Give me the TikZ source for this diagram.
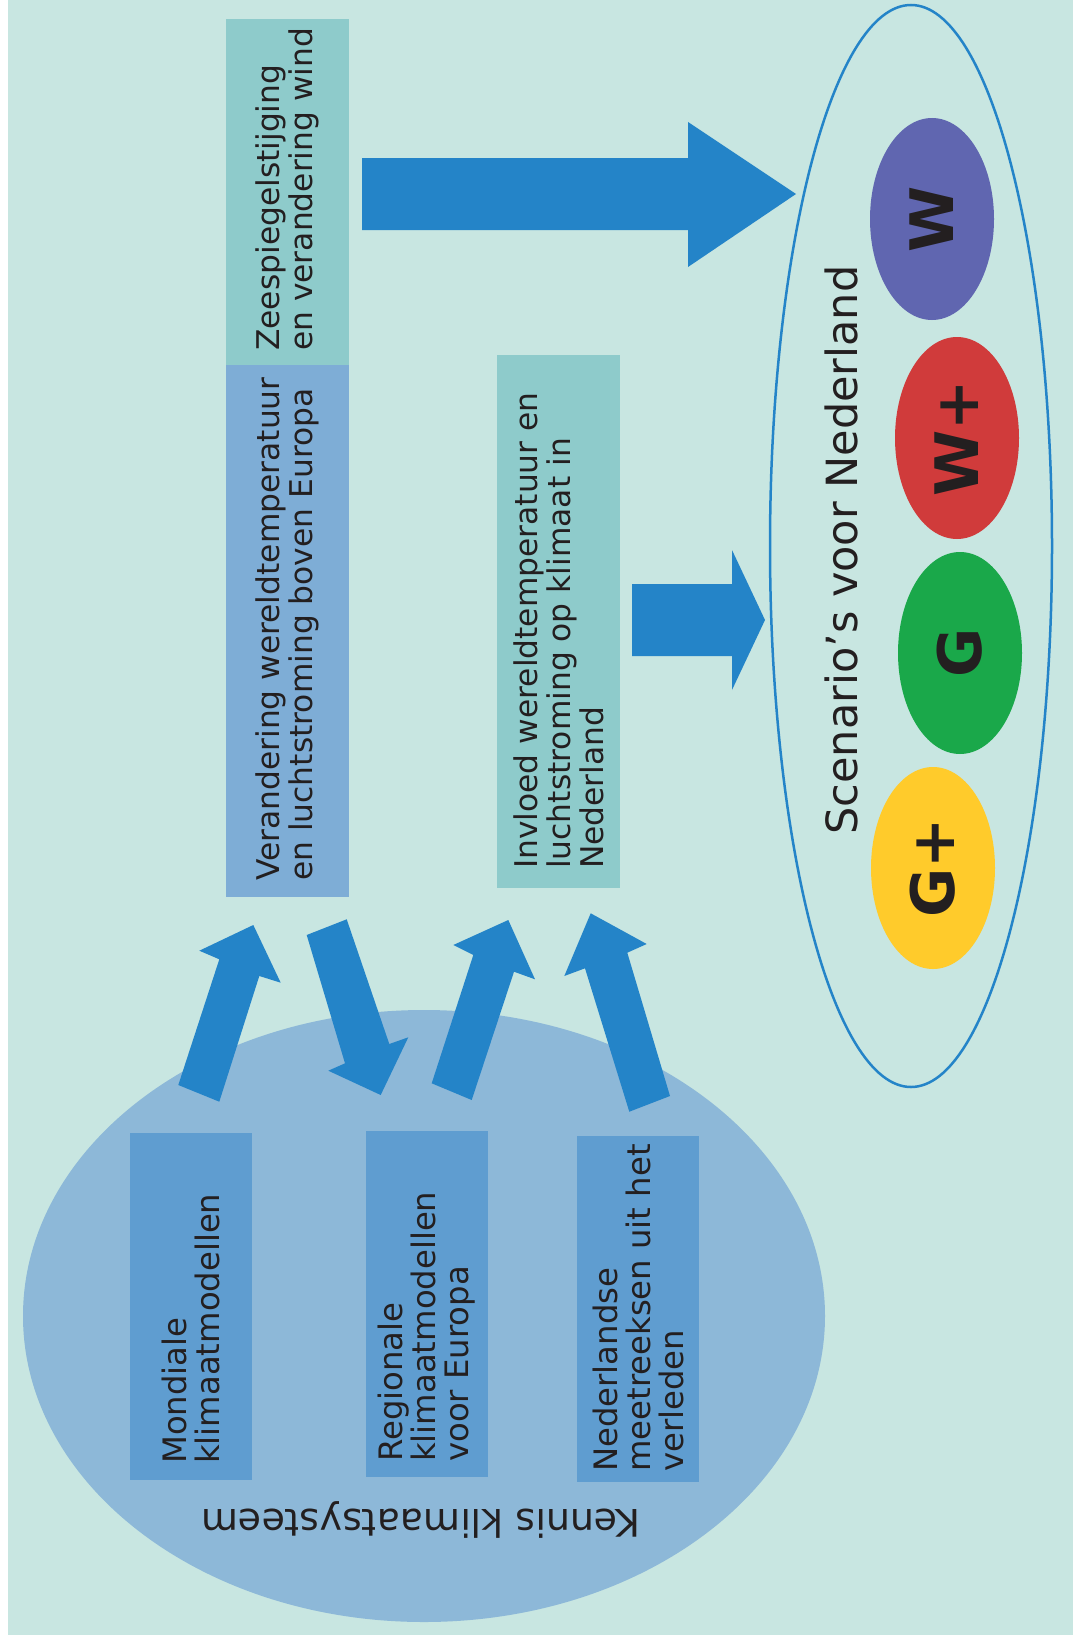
\documentclass[tikz,border=0pt]{standalone}
\usepackage{fontspec}
\setmainfont{DejaVu Sans}
\usetikzlibrary{shapes.geometric}
\definecolor{bg}{RGB}{200,230,225}
\definecolor{tealbox}{RGB}{142,203,203}
\definecolor{bluebox}{RGB}{126,173,214}
\definecolor{cloud}{RGB}{141,184,216}
\definecolor{inbox}{RGB}{95,157,208}
\definecolor{arrowblue}{RGB}{36,132,200}
\definecolor{ink}{RGB}{35,31,32}
\definecolor{wpurple}{RGB}{96,102,176}
\definecolor{wred}{RGB}{208,59,59}
\definecolor{ggreen}{RGB}{26,168,74}
\definecolor{gyellow}{RGB}{255,203,43}
\begin{document}
\begin{tikzpicture}[x=1pt,y=-1pt,
  panel/.style={inner sep=0pt, outer sep=0pt, draw=none},
  lbl/.style={rotate=90, anchor=west, align=left, inner sep=0pt, text=ink,
    font=\fontsize{31.3}{33}\selectfont},
  lbllow/.style={lbl, font=\fontsize{32.3}{33}\selectfont},
  blockarrow/.style={fill=arrowblue, draw=none},
  scenario/.style={ellipse, inner sep=0pt, draw=none, minimum width=124pt, minimum height=202pt},
  letter/.style={rotate=90, inner sep=0pt, text=ink, font=\fontsize{60}{60}\selectfont\bfseries}]
\fill[bg] (0,0) rectangle (1073,1635);
\fill[white] (0,0) rectangle (8,1635);
\useasboundingbox (0,0) rectangle (1073,1635);

% knowledge cloud
\node[ellipse, panel, fill=cloud, minimum width=802pt, minimum height=612pt] (kennis) at (424,1316) {};
\node[panel, fill=inbox, minimum width=122pt, minimum height=347pt] (mon) at (191,1306.5) {};
\node[panel, fill=inbox, minimum width=122pt, minimum height=346pt] (reg) at (427,1304) {};
\node[panel, fill=inbox, minimum width=122pt, minimum height=346pt] (ned) at (638,1309) {};
\node[lbllow] (mont) at ([yshift=16pt]mon.south) {Mondiale\\klimaatmodellen};
\node[lbllow] (regt) at ([yshift=15pt]reg.south) {Regionale\\klimaatmodellen\\voor Europa};
\node[lbllow] (nedt) at ([yshift=10pt]ned.south) {Nederlandse\\meetreeksen uit het\\verleden};
\node[rotate=180, inner sep=0pt, text=ink, font=\fontsize{38}{40}\selectfont] (kt) at (421,1520) {Kennis klimaatsysteem};

% upper boxes
\node[panel, fill=tealbox, minimum width=123pt, minimum height=346pt] (zee) at (287.5,192) {};
\node[panel, fill=bluebox, minimum width=123pt, minimum height=532pt] (ver) at (287.5,631) {};
\node[panel, fill=tealbox, minimum width=123pt, minimum height=533pt] (inv) at (558.5,621.5) {};
\node[lbl] (zeet) at ([yshift=14pt]zee.south) {Zeespiegelstijging\\en verandering wind};
\node[lbl] (vert) at ([yshift=16pt]ver.south) {Verandering wereldtemperatuur\\en luchtstroming boven Europa};
\node[lbl] (invt) at ([yshift=19pt]inv.south) {Invloed wereldtemperatuur en\\luchtstroming op klimaat in\\Nederland};

% scenario ellipse
\node[ellipse, draw=arrowblue, line width=2.5pt, inner sep=0pt, minimum width=282pt, minimum height=1082pt] (scen) at (911,546) {};
\node[rotate=90, anchor=base, inner sep=0pt, text=ink, font=\fontsize{43}{46}\selectfont] (st) at (857,550) {Scenario’s voor Nederland};
\node[scenario, fill=wpurple] (w) at (932,219) {};
\node[scenario, fill=wred] (wp) at (957,438) {};
\node[scenario, fill=ggreen] (g) at (960,653) {};
\node[scenario, fill=gyellow] (gp) at (933,868) {};
\node[letter] (wt) at (w) {W};
\node[letter] (wpt) at (wp) {W+};
\node[letter] (gt) at (g) {G};
\node[letter] (gpt) at (gp) {G+};

% block arrows
\fill[blockarrow] (362,158) -- (688,158) -- (688,122) -- (796,194) -- (688,267) -- (688,230) -- (362,230) -- cycle;
\fill[blockarrow] (632,584) -- (732,584) -- (732,550) -- (765,620) -- (732,690) -- (732,656) -- (632,656) -- cycle;
\fill[blockarrow] (178.3,1085) -- (219.3,959.3) -- (199.3,950.7) -- (253.3,925) -- (280.7,982.7) -- (259.3,976) -- (219.3,1101.7) -- cycle;
\fill[blockarrow] (306.7,935) -- (346.7,919.3) -- (389.3,1044) -- (408.3,1037.3) -- (380.7,1095) -- (328.3,1070.7) -- (345,1063.3) -- cycle;
\fill[blockarrow] (431.7,1083.3) -- (473.3,955) -- (453.3,945) -- (508.3,920) -- (535,979.3) -- (514,971.7) -- (471.7,1100) -- cycle;
\fill[blockarrow] (629.3,1111.7) -- (585,968.3) -- (564.3,976) -- (590.7,913.3) -- (646.7,944) -- (627.3,952.7) -- (670,1096) -- cycle;
\end{tikzpicture}
\end{document}
